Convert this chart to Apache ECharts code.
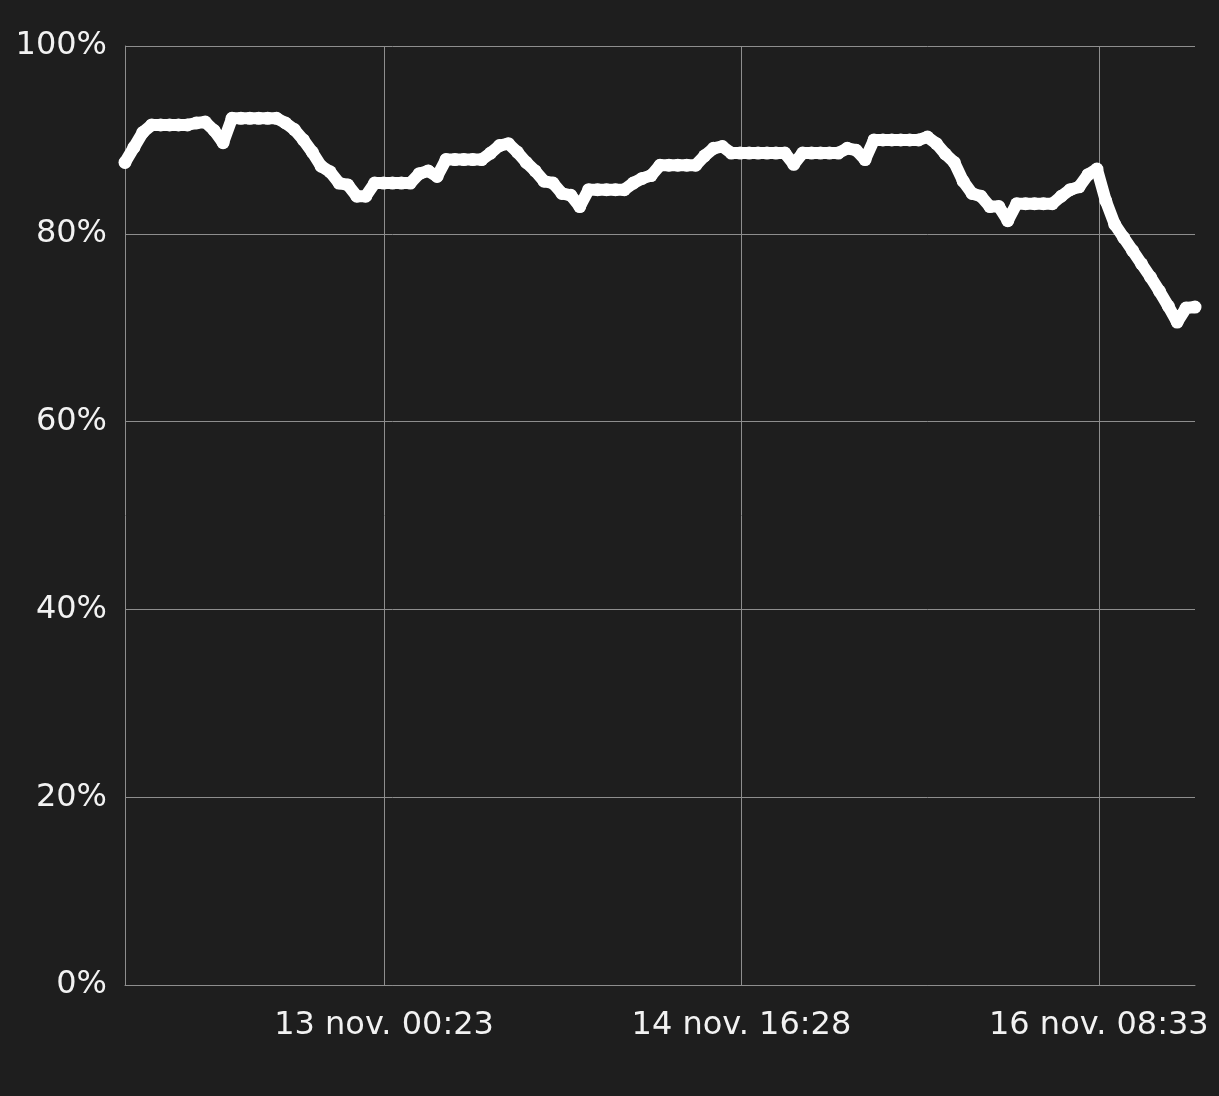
<!DOCTYPE html>
<html>
<head>
<meta charset="utf-8">
<script src="https://cdn.jsdelivr.net/npm/echarts@6/dist/echarts.min.js"></script>
<style>
html,body{margin:0;padding:0;background:#1e1e1e;}
#c{width:1219px;height:1096px;}
</style>
</head>
<body>
<div id="c"></div>
<script>
// Hourly sample times
const times = [
 '2023-11-11T19:20','2023-11-11T20:20','2023-11-11T21:20','2023-11-11T22:20','2023-11-11T23:20',
 '2023-11-12T00:20','2023-11-12T01:20','2023-11-12T02:20','2023-11-12T03:20','2023-11-12T04:20','2023-11-12T05:20',
 '2023-11-12T06:20','2023-11-12T07:20','2023-11-12T08:20','2023-11-12T09:20','2023-11-12T10:20','2023-11-12T11:20',
 '2023-11-12T12:20','2023-11-12T13:20','2023-11-12T14:20','2023-11-12T15:20','2023-11-12T16:20','2023-11-12T17:20',
 '2023-11-12T18:20','2023-11-12T19:20','2023-11-12T20:20','2023-11-12T21:20','2023-11-12T22:20','2023-11-12T23:20',
 '2023-11-13T00:20','2023-11-13T01:20','2023-11-13T02:20','2023-11-13T03:20','2023-11-13T04:20','2023-11-13T05:20',
 '2023-11-13T06:20','2023-11-13T07:20','2023-11-13T08:20','2023-11-13T09:20','2023-11-13T10:20','2023-11-13T11:20',
 '2023-11-13T12:20','2023-11-13T13:20','2023-11-13T14:20','2023-11-13T15:20','2023-11-13T16:20','2023-11-13T17:20',
 '2023-11-13T18:20','2023-11-13T19:20','2023-11-13T20:20','2023-11-13T21:20','2023-11-13T22:20','2023-11-13T23:20',
 '2023-11-14T00:20','2023-11-14T01:20','2023-11-14T02:20','2023-11-14T03:20','2023-11-14T04:20','2023-11-14T05:20',
 '2023-11-14T06:20','2023-11-14T07:20','2023-11-14T08:20','2023-11-14T09:20','2023-11-14T10:20','2023-11-14T11:20',
 '2023-11-14T12:20','2023-11-14T13:20','2023-11-14T14:20','2023-11-14T15:20','2023-11-14T16:20','2023-11-14T17:20',
 '2023-11-14T18:20','2023-11-14T19:20','2023-11-14T20:20','2023-11-14T21:20','2023-11-14T22:20','2023-11-14T23:20',
 '2023-11-15T00:20','2023-11-15T01:20','2023-11-15T02:20','2023-11-15T03:20','2023-11-15T04:20','2023-11-15T05:20',
 '2023-11-15T06:20','2023-11-15T07:20','2023-11-15T08:20','2023-11-15T09:20','2023-11-15T10:20','2023-11-15T11:20',
 '2023-11-15T12:20','2023-11-15T13:20','2023-11-15T14:20','2023-11-15T15:20','2023-11-15T16:20','2023-11-15T17:20',
 '2023-11-15T18:20','2023-11-15T19:20','2023-11-15T20:20','2023-11-15T21:20','2023-11-15T22:20','2023-11-15T23:20',
 '2023-11-16T00:20','2023-11-16T01:20','2023-11-16T02:20','2023-11-16T03:20','2023-11-16T04:20','2023-11-16T05:20',
 '2023-11-16T06:20','2023-11-16T07:20','2023-11-16T08:20','2023-11-16T09:20','2023-11-16T10:20','2023-11-16T11:20',
 '2023-11-16T12:20','2023-11-16T13:20','2023-11-16T14:20','2023-11-16T15:20','2023-11-16T16:20','2023-11-16T17:20',
 '2023-11-16T18:20','2023-11-16T19:20'
];
// Percentage values
const values = [
 87.6, 89.2, 90.8, 91.6, 91.6, 91.6, 91.6, 91.6, 91.8, 91.9,
 91.0, 89.7, 92.3, 92.3, 92.3, 92.3, 92.3, 92.3, 91.8, 91.1,
 90.0, 88.7, 87.2, 86.6, 85.4, 85.2, 84.0, 84.0, 85.4, 85.4,
 85.4, 85.4, 85.4, 86.4, 86.7, 86.1, 87.9, 87.9, 87.9, 87.9,
 87.9, 88.6, 89.4, 89.6, 88.7, 87.6, 86.7, 85.6, 85.4, 84.3,
 84.1, 82.9, 84.7, 84.7, 84.7, 84.7, 84.7, 85.4, 85.9, 86.2,
 87.3, 87.3, 87.3, 87.3, 87.3, 88.3, 89.1, 89.3, 88.6, 88.6,
 88.6, 88.6, 88.6, 88.6, 88.6, 87.4, 88.6, 88.6, 88.6, 88.6,
 88.6, 89.1, 88.9, 87.9, 90.0, 90.0, 90.0, 90.0, 90.0, 90.0,
 90.3, 89.6, 88.5, 87.6, 85.6, 84.3, 84.0, 82.9, 82.9, 81.4,
 83.2, 83.2, 83.2, 83.2, 83.2, 84.0, 84.7, 85.0, 86.3, 86.9,
 83.5, 81.0, 79.6, 78.2, 76.8, 75.4, 73.9, 72.3, 70.6, 72.1, 72.2
];
// X tick positions
const xTicks = ['2023-11-13T00:23', '2023-11-14T16:28', '2023-11-16T08:33'];
const monthNames = ['janv.','févr.','mars','avr.','mai','juin','juil.','août','sept.','oct.','nov.','déc.'];

const toMs = s => new Date(s).getTime();
const data = times.map((t, i) => [toMs(t), values[i]]);
const tickMs = xTicks.map(toMs);
const pad = n => (n < 10 ? '0' : '') + n;

const gridColor = '#8e8e8e';
const textColor = '#f2f2f2';
const font = 'DejaVu Sans';

const chart = echarts.init(document.getElementById('c'), null, {renderer: 'canvas'});
chart.setOption({
  backgroundColor: '#1e1e1e',
  animation: false,
  grid: {left: 125, right: 24, top: 46, bottom: 111, containLabel: false, outerBoundsMode: 'none'},
  xAxis: {
    type: 'value',
    min: toMs(times[0]),
    max: toMs(times[times.length - 1]),
    axisLine: {show: true, lineStyle: {color: gridColor, width: 1}},
    axisTick: {show: false, customValues: tickMs},
    splitLine: {show: true, lineStyle: {color: gridColor, width: 1}},
    axisLabel: {
      customValues: tickMs,
      color: textColor, fontFamily: font, fontSize: 32, margin: 25,
      formatter: v => { const d = new Date(v); return d.getDate() + ' ' + monthNames[d.getMonth()] + ' ' + pad(d.getHours()) + ':' + pad(d.getMinutes()); }
    }
  },
  yAxis: {
    type: 'value', min: 0, max: 100, interval: 20,
    axisLine: {show: true, lineStyle: {color: gridColor, width: 1}},
    axisTick: {show: false},
    splitLine: {show: true, lineStyle: {color: gridColor, width: 1}},
    axisLabel: {formatter: '{value}%', color: textColor, fontFamily: font, fontSize: 32, margin: 18}
  },
  series: [{
    type: 'line',
    data: data,
    showSymbol: true,
    symbol: 'circle',
    symbolSize: 13,
    itemStyle: {color: '#ffffff'},
    lineStyle: {color: '#ffffff', width: 12, cap: 'round', join: 'round'},
    emphasis: {disabled: true}
  }]
});
</script>
</body>
</html>
